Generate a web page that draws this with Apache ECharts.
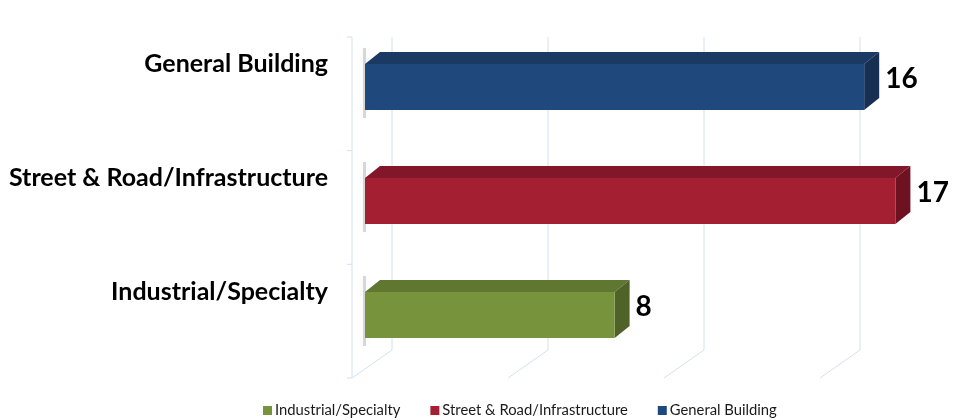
<!DOCTYPE html>
<html><head><meta charset="utf-8">
<script src="https://cdn.jsdelivr.net/npm/echarts@6/dist/echarts.min.js"></script>
<style>html,body{margin:0;padding:0;background:#fff}#c{width:955px;height:420px}</style>
</head><body><div id="c"></div>
<script>
const categories = ['Industrial/Specialty', 'Street & Road/Infrastructure', 'General Building'];
const seriesNames = ['Industrial/Specialty', 'Street & Road/Infrastructure', 'General Building'];
const values = [8, 17, 16];
const gridTicks = [0, 5, 10, 15];

const palette = [
  {front:'#77933C', top:'#5F7731', side:'#4F6228'},
  {front:'#A51F33', top:'#82172A', side:'#6E1222'},
  {front:'#1F497D', top:'#1A3A63', side:'#162F52'}
];
const DX = 15, DY = 12, H = 46;
const gridColor = '#D3E0F0';
const FONT = 'Lato, "Liberation Sans", Arial, sans-serif';

const chart = echarts.init(document.getElementById('c'));

function barRender(i) {
  return function(params, api) {
    const v = api.value(0), cat = api.value(1);
    const p0 = api.coord([0, cat]);
    const p1 = api.coord([v, cat]);
    const x0 = p0[0], x1 = p1[0], c = p0[1];
    const col = palette[i];
    return {type:'group', children:[
      {type:'rect', shape:{x:x0-2, y:c-16, width:3, height:H+24},
        style:{fill:'rgba(0,0,0,0.15)', shadowBlur:7, shadowColor:'rgba(0,0,0,0.35)'}},
      {type:'polygon', shape:{points:[[x0,c],[x1,c],[x1+DX,c-DY],[x0+DX,c-DY]]}, style:{fill:col.top}},
      {type:'polygon', shape:{points:[[x1,c],[x1+DX,c-DY],[x1+DX,c+H-DY],[x1,c+H]]}, style:{fill:col.side}},
      {type:'rect', shape:{x:x0, y:c, width:x1-x0, height:H}, style:{fill:col.front}},
      {type:'text', style:{text:String(v), x:x1+DX+6, y:c+15, textVerticalAlign:'middle', textAlign:'left',
        font:'bold 28px ' + FONT, fill:'#000'}}
    ]};
  };
}

function gridRender(params, api) {
  const v = api.value(0);
  const pTop = api.coord([v, 2]);
  const pBot = api.coord([v, 0]);
  const x = pTop[0] + 27;
  const yTop = pTop[1] - 27, yBack = pBot[1] + 58;
  const children = [
    {type:'line', shape:{x1:x, y1:yTop, x2:x, y2:yBack}, style:{stroke:gridColor, lineWidth:1}},
    {type:'line', shape:{x1:x, y1:yBack, x2:x-40, y2:yBack+28}, style:{stroke:gridColor, lineWidth:1}}
  ];
  if (params.dataIndex === 0) {
    const wx = pTop[0] - 13;
    children.push({type:'line', shape:{x1:wx, y1:yTop, x2:wx, y2:yBack+28}, style:{stroke:gridColor, lineWidth:1}});
    for (let k = 0; k < 4; k++) {
      const yy = yTop + k * (yBack + 28 - yTop) / 3;
      children.push({type:'line', shape:{x1:wx-5, y1:yy, x2:wx, y2:yy}, style:{stroke:gridColor, lineWidth:1}});
    }
  }
  return {type:'group', children};
}

const series = [{
  type:'custom', name:'_grid', silent:true, renderItem:gridRender,
  data: gridTicks.map(t => [t]), encode:{x:0}, z:1
}];
seriesNames.forEach((n, i) => {
  series.push({
    type:'custom', name:n, renderItem:barRender(i),
    itemStyle:{color:palette[i].front},
    data:[[values[i], i]], encode:{x:0, y:1}, z:2
  });
});

chart.setOption({
  animation:false,
  grid:{left:365, top:7, width:561.6, height:342},
  xAxis:{type:'value', min:0, max:18, show:false},
  yAxis:{type:'category', data:categories,
    axisLine:{show:false}, axisTick:{show:false}, splitLine:{show:false},
    axisLabel:{margin:37, color:'#000', fontWeight:'bold', fontSize:25, fontFamily:FONT}},
  legend:{data:seriesNames, bottom:2, left:263, padding:0, itemWidth:9, itemHeight:9, itemGap:30, icon:'rect',
    textStyle:{fontSize:14.8, color:'#1a1a1a', fontFamily:FONT, padding:[0,0,0,-2]}},
  series
});
</script></body></html>
